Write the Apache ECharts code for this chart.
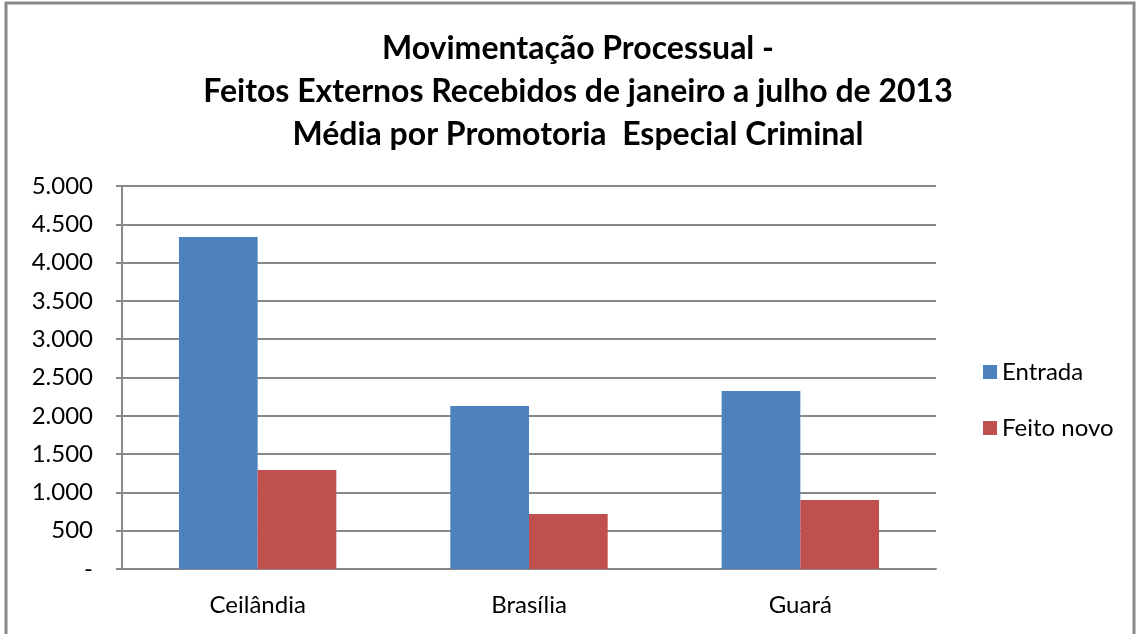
<!DOCTYPE html>
<html>
<head>
<meta charset="utf-8">
<script src="https://cdn.jsdelivr.net/npm/echarts@6/dist/echarts.min.js"></script>
<style>
  html, body { margin: 0; padding: 0; background: #fff; }
  #main { width: 1140px; height: 634px; }
</style>
</head>
<body>
<div id="main"></div>
<script>
var categories = ['Ceilândia', 'Brasília', 'Guará'];
var entrada = [4334, 2128, 2324];
var feitoNovo = [1292, 718, 901];
var yTicks = [0, 500, 1000, 1500, 2000, 2500, 3000, 3500, 4000, 4500, 5000];

var myChart = echarts.init(document.getElementById('main'));

var font = 'Lato';

function fmt(v) {
    if (v === 0) return '-';
    return String(v).replace(/\B(?=(\d{3})+(?!\d))/g, '.');
}

option = {
    backgroundColor: '#fff',
    animation: false,
    title: {
        text: 'Movimentação Processual -\nFeitos Externos Recebidos de janeiro a julho de 2013\nMédia por Promotoria  Especial Criminal',
        left: 573,
        top: 22,
        textAlign: 'center',
        textStyle: {
            fontFamily: font,
            fontSize: 32,
            fontWeight: 'bold',
            color: '#000',
            lineHeight: 43
        }
    },
    graphic: [
        {
            type: 'rect',
            shape: { x: 6, y: 3, width: 1128, height: 640 },
            style: { fill: 'none', stroke: '#888', lineWidth: 3 },
            silent: true
        }
    ],
    legend: {
        orient: 'vertical',
        left: 978,
        top: 355,
        itemWidth: 14,
        itemHeight: 14,
        itemGap: 32,
        itemStyle: { borderWidth: 0 },
        icon: 'rect',
        textStyle: { fontFamily: font, fontSize: 24, color: '#000' },
        data: ['Entrada', 'Feito novo']
    },
    grid: {
        left: 122,
        top: 186,
        width: 814,
        height: 383
    },
    xAxis: {
        type: 'category',
        data: categories,
        axisLine: { lineStyle: { color: '#888', width: 2 } },
        axisTick: { show: false },
        axisLabel: {
            fontFamily: font,
            fontSize: 24,
            color: '#000',
            margin: 24
        }
    },
    yAxis: {
        type: 'value',
        min: yTicks[0],
        max: yTicks[yTicks.length - 1],
        interval: 500,
        axisLine: { show: true, lineStyle: { color: '#888', width: 2 } },
        axisTick: { show: true, length: 6, inside: false, lineStyle: { color: '#888', width: 2 } },
        splitLine: { lineStyle: { color: '#888', width: 2 } },
        axisLabel: {
            fontFamily: font,
            fontSize: 24,
            color: '#000',
            margin: 29,
            formatter: fmt
        }
    },
    series: [
        {
            name: 'Entrada',
            type: 'bar',
            data: entrada,
            itemStyle: { color: '#4f81bd' },
            barGap: '0%',
            barCategoryGap: '42%'
        },
        {
            name: 'Feito novo',
            type: 'bar',
            data: feitoNovo,
            itemStyle: { color: '#c0504d' }
        }
    ]
};

myChart.setOption(option);
</script>
</body>
</html>
